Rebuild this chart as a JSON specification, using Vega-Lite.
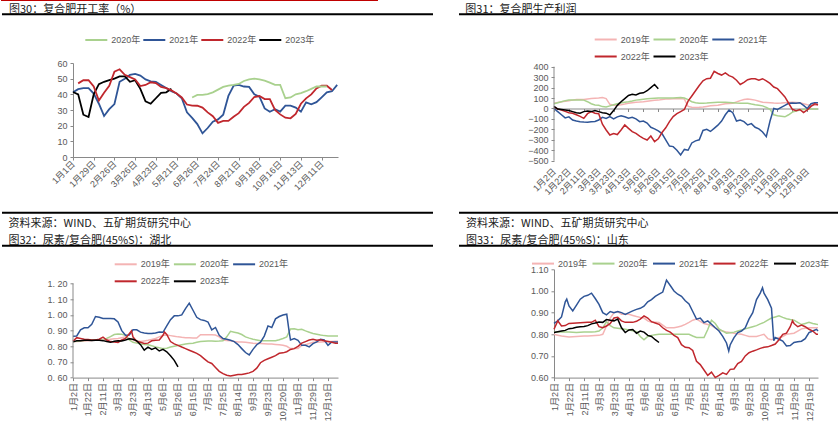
{
"$schema":"https://vega.github.io/schema/vega-lite/v6.json",
"padding":0,
"background":"white",
"config":{"view":{"stroke":null},"font":"Liberation Sans, Noto Sans CJK SC",
"axis":{"domainColor":"#898989","tickColor":"#898989","labelColor":"#595959","labelFontSize":9,"tickSize":3,"grid":false,"labelOverlap":false,"labelFlush":false,"labelBound":false,"labelFont":"Liberation Sans, Noto Sans CJK SC"},
"legend":{"symbolType":"stroke","symbolStrokeWidth":2,"symbolSize":484,"labelFontSize":9,"labelColor":"#595959","labelOffset":3,"padding":0,"rowPadding":-10,"labelFont":"Liberation Sans, Noto Sans CJK SC"}},
"datasets":{
"p1":[
{"i":0,"2021年":41.3,"2023年":41.5},
{"i":1,"2021年":43.3,"2022年":47,"2023年":40},
{"i":2,"2021年":44,"2022年":49,"2023年":27},
{"i":3,"2021年":44,"2022年":49,"2023年":25.5},
{"i":4,"2021年":40.5,"2022年":45,"2023年":40},
{"i":5,"2021年":34,"2022年":36,"2023年":46.5},
{"i":6,"2021年":26.2,"2022年":41,"2023年":48},
{"i":7,"2021年":30.5,"2022年":45.5,"2023年":49},
{"i":8,"2021年":33.8,"2022年":54.5,"2023年":50},
{"i":9,"2021年":48,"2022年":56,"2023年":51.5},
{"i":10,"2021年":50,"2022年":52.5,"2023年":51.5},
{"i":11,"2021年":52.5,"2022年":51,"2023年":48},
{"i":12,"2021年":53,"2022年":49.5,"2023年":49},
{"i":13,"2021年":52,"2022年":45.3,"2023年":43.5},
{"i":14,"2021年":49.5,"2022年":46,"2023年":35.5},
{"i":15,"2021年":48.3,"2022年":47.7,"2023年":34},
{"i":16,"2021年":48,"2022年":47.2,"2023年":37.5},
{"i":17,"2021年":46,"2022年":44.7,"2023年":41},
{"i":18,"2021年":44,"2022年":44,"2023年":41.3},
{"i":19,"2021年":42,"2022年":42.5,"2023年":43.5},
{"i":20,"2021年":40.5,"2022年":40.5},
{"i":21,"2021年":37.5,"2022年":38},
{"i":22,"2021年":28.5,"2022年":33.5},
{"i":23,"2020年":38,"2021年":25,"2022年":32.8},
{"i":24,"2020年":39.6,"2021年":21,"2022年":32.7},
{"i":25,"2020年":39.6,"2021年":15.1,"2022年":31.5},
{"i":26,"2020年":40.2,"2021年":18.5,"2022年":28.5},
{"i":27,"2020年":41.3,"2021年":22.5,"2022年":26},
{"i":28,"2020年":43,"2021年":24,"2022年":21.8},
{"i":29,"2020年":44.7,"2021年":27,"2022年":23},
{"i":30,"2020年":45.5,"2021年":39,"2022年":23},
{"i":31,"2020年":46,"2021年":45.5,"2022年":25.7},
{"i":32,"2020年":46.6,"2021年":46,"2022年":28},
{"i":33,"2020年":48.5,"2021年":45,"2022年":32},
{"i":34,"2020年":49.6,"2021年":44.7,"2022年":34.5},
{"i":35,"2020年":50,"2021年":40,"2022年":38.3},
{"i":36,"2020年":49.6,"2021年":38.5,"2022年":38.9},
{"i":37,"2020年":48.8,"2021年":31,"2022年":37},
{"i":38,"2020年":47.5,"2021年":28.9,"2022年":37},
{"i":39,"2020年":46,"2021年":30.5,"2022年":30},
{"i":40,"2020年":46,"2021年":29,"2022年":27.2},
{"i":41,"2020年":37.5,"2021年":32.8,"2022年":25.1},
{"i":42,"2020年":38,"2021年":32.8,"2022年":24.7},
{"i":43,"2020年":40,"2021年":31.5,"2022年":27.5},
{"i":44,"2020年":40.8,"2021年":28.9,"2022年":34},
{"i":45,"2020年":42,"2021年":34.9,"2022年":37.4},
{"i":46,"2020年":43.5,"2021年":33.6,"2022年":40},
{"i":47,"2020年":45,"2021年":35,"2022年":43.8},
{"i":48,"2020年":45,"2021年":38,"2022年":45.5},
{"i":49,"2020年":45,"2021年":41.3,"2022年":45.5},
{"i":50,"2021年":42,"2022年":42.8},
{"i":51,"2021年":46}
],
"p2":[
{"u":0,"2019年":50,"2020年":45,"2021年":0,"2022年":15,"2023年":20},
{"u":0.25,"2019年":58,"2020年":55,"2021年":-30,"2022年":-5,"2023年":-5},
{"u":0.5,"2019年":65,"2020年":65,"2021年":-60,"2022年":-15,"2023年":-10},
{"u":0.75,"2019年":70,"2020年":75,"2021年":-90,"2022年":-28,"2023年":-15},
{"u":1,"2019年":75,"2020年":80,"2021年":-80,"2022年":-40,"2023年":-20},
{"u":1.25,"2019年":80,"2020年":82,"2021年":-110,"2022年":-46,"2023年":-30},
{"u":1.5,"2019年":85,"2020年":82,"2021年":-120,"2022年":-60,"2023年":-40},
{"u":1.75,"2019年":85,"2020年":81,"2021年":-126,"2022年":-75,"2023年":-46},
{"u":2,"2019年":85,"2020年":80,"2021年":-130,"2022年":-95,"2023年":-30},
{"u":2.25,"2019年":90,"2020年":65,"2021年":-132,"2022年":-50,"2023年":-25},
{"u":2.5,"2019年":95,"2020年":45,"2021年":-128,"2022年":-30,"2023年":-30},
{"u":2.75,"2019年":98,"2020年":33,"2021年":-125,"2022年":-45,"2023年":-20},
{"u":3,"2019年":100,"2020年":30,"2021年":-110,"2022年":-50,"2023年":-30},
{"u":3.25,"2019年":105,"2020年":18,"2021年":-85,"2022年":-150,"2023年":-40},
{"u":3.5,"2019年":95,"2020年":15,"2021年":-95,"2022年":-206,"2023年":-45},
{"u":3.75,"2019年":40,"2020年":25,"2021年":-78,"2022年":-254,"2023年":-62},
{"u":4,"2019年":30,"2020年":35,"2021年":-100,"2022年":-240,"2023年":-20},
{"u":4.25,"2019年":32,"2020年":45,"2021年":-80,"2022年":-250,"2023年":30},
{"u":4.5,"2019年":35,"2020年":55,"2021年":-70,"2022年":-206,"2023年":65},
{"u":4.75,"2019年":42,"2020年":60,"2021年":-80,"2022年":-158,"2023年":95},
{"u":5,"2019年":50,"2020年":65,"2021年":-94,"2022年":-190,"2023年":125},
{"u":5.25,"2019年":55,"2020年":72,"2021年":-85,"2022年":-222,"2023年":136},
{"u":5.5,"2019年":60,"2020年":80,"2021年":-100,"2022年":-238,"2023年":130},
{"u":5.75,"2019年":62,"2020年":84,"2021年":-126,"2022年":-264,"2023年":145},
{"u":6,"2019年":65,"2020年":88,"2021年":-120,"2022年":-286,"2023年":150},
{"u":6.25,"2019年":70,"2020年":92,"2021年":-140,"2022年":-302,"2023年":170},
{"u":6.5,"2019年":75,"2020年":95,"2021年":-180,"2022年":-264,"2023年":200},
{"u":6.75,"2019年":78,"2020年":98,"2021年":-195,"2022年":-318,"2023年":230},
{"u":7,"2019年":80,"2020年":100,"2021年":-215,"2022年":-290,"2023年":190},
{"u":7.25,"2019年":85,"2020年":100,"2021年":-240,"2022年":-230},
{"u":7.5,"2019年":90,"2020年":100,"2021年":-300,"2022年":-185},
{"u":7.75,"2019年":91,"2020年":100,"2021年":-360,"2022年":-126},
{"u":8,"2019年":92,"2020年":100,"2021年":-365,"2022年":-78},
{"u":8.25,"2019年":94,"2020年":103,"2021年":-400,"2022年":-50},
{"u":8.5,"2019年":95,"2020年":105,"2021年":-445,"2022年":-30},
{"u":8.75,"2019年":90,"2020年":100,"2021年":-392,"2022年":-10},
{"u":9,"2019年":20,"2020年":85,"2021年":-400,"2022年":70},
{"u":9.25,"2019年":12,"2020年":65,"2021年":-330,"2022年":120},
{"u":9.5,"2019年":10,"2020年":55,"2021年":-310,"2022年":170},
{"u":9.75,"2019年":12,"2020年":50,"2021年":-300,"2022年":220},
{"u":10,"2019年":15,"2020年":50,"2021年":-210,"2022年":265},
{"u":10.25,"2019年":20,"2020年":52,"2021年":-200,"2022年":285},
{"u":10.5,"2019年":25,"2020年":55,"2021年":-220,"2022年":290},
{"u":10.75,"2019年":28,"2020年":58,"2021年":-190,"2022年":355},
{"u":11,"2019年":30,"2020年":60,"2021年":-160,"2022年":335},
{"u":11.25,"2019年":38,"2020年":60,"2021年":-120,"2022年":320},
{"u":11.5,"2019年":45,"2020年":60,"2021年":-60,"2022年":340},
{"u":11.75,"2019年":48,"2020年":58,"2021年":-15,"2022年":315},
{"u":12,"2019年":50,"2020年":55,"2021年":-40,"2022年":300},
{"u":12.25,"2019年":62,"2020年":52,"2021年":-120,"2022年":270},
{"u":12.5,"2019年":75,"2020年":50,"2021年":-110,"2022年":230},
{"u":12.75,"2019年":85,"2020年":50,"2021年":-126,"2022年":250},
{"u":13,"2019年":90,"2020年":50,"2021年":-158,"2022年":275},
{"u":13.25,"2019年":85,"2020年":42,"2021年":-145,"2022年":285},
{"u":13.5,"2019年":80,"2020年":35,"2021年":-180,"2022年":285},
{"u":13.75,"2019年":70,"2020年":30,"2021年":-195,"2022年":270},
{"u":14,"2019年":60,"2020年":25,"2021年":-225,"2022年":285},
{"u":14.25,"2019年":58,"2020年":10,"2021年":-270,"2022年":265},
{"u":14.5,"2019年":55,"2020年":-8,"2021年":-120,"2022年":240},
{"u":14.75,"2019年":52,"2020年":-60,"2021年":0,"2022年":205},
{"u":15,"2019年":50,"2020年":-70,"2021年":-10,"2022年":190},
{"u":15.25,"2019年":52,"2020年":-75,"2021年":10,"2022年":150},
{"u":15.5,"2019年":55,"2020年":-80,"2021年":30,"2022年":110},
{"u":15.75,"2019年":58,"2020年":-60,"2021年":50,"2022年":50},
{"u":16,"2019年":60,"2020年":-35,"2021年":52,"2022年":-8},
{"u":16.25,"2019年":58,"2020年":-25,"2021年":50,"2022年":-21},
{"u":16.5,"2019年":55,"2020年":-15,"2021年":55,"2022年":-10},
{"u":16.75,"2019年":45,"2020年":-10,"2021年":30,"2022年":-40},
{"u":17,"2019年":35,"2020年":-5,"2021年":0,"2022年":-14},
{"u":17.25,"2019年":32,"2020年":-5,"2021年":45,"2022年":20},
{"u":17.5,"2019年":30,"2020年":-5,"2021年":55,"2022年":45},
{"u":17.72,"2019年":30,"2020年":-5,"2021年":55,"2022年":35}
],
"p3":[
{"u":0,"2019年":0.83,"2020年":0.83,"2021年":0.864,"2022年":0.832,"2023年":0.828},
{"u":0.25,"2019年":0.831,"2020年":0.832,"2021年":0.866,"2022年":0.855,"2023年":0.835},
{"u":0.5,"2019年":0.832,"2020年":0.835,"2021年":0.905,"2022年":0.85,"2023年":0.836},
{"u":0.75,"2019年":0.834,"2020年":0.837,"2021年":0.918,"2022年":0.845,"2023年":0.838},
{"u":1,"2019年":0.835,"2020年":0.84,"2021年":0.918,"2022年":0.843,"2023年":0.838},
{"u":1.25,"2019年":0.837,"2020年":0.84,"2021年":0.94,"2022年":0.84,"2023年":0.837},
{"u":1.5,"2019年":0.84,"2020年":0.84,"2021年":0.99,"2022年":0.84,"2023年":0.838},
{"u":1.75,"2019年":0.84,"2020年":0.839,"2021年":0.985,"2022年":0.845,"2023年":0.838},
{"u":2,"2019年":0.84,"2020年":0.838,"2021年":0.977,"2022年":0.858,"2023年":0.836},
{"u":2.25,"2019年":0.842,"2020年":0.85,"2021年":0.977,"2022年":0.84,"2023年":0.83},
{"u":2.5,"2019年":0.845,"2020年":0.862,"2021年":0.977,"2022年":0.83,"2023年":0.825},
{"u":2.75,"2019年":0.848,"2020年":0.875,"2021年":0.975,"2022年":0.828,"2023年":0.832},
{"u":3,"2019年":0.85,"2020年":0.878,"2021年":0.955,"2022年":0.825,"2023年":0.835},
{"u":3.25,"2019年":0.855,"2020年":0.876,"2021年":0.9,"2022年":0.84,"2023年":0.834},
{"u":3.5,"2019年":0.86,"2020年":0.87,"2021年":0.87,"2022年":0.85,"2023年":0.84},
{"u":3.75,"2019年":0.85,"2020年":0.84,"2021年":0.872,"2022年":0.88,"2023年":0.848},
{"u":3.9,"2022年":0.898},
{"u":4,"2019年":0.84,"2020年":0.825,"2021年":0.905,"2022年":0.86,"2023年":0.845},
{"u":4.25,"2019年":0.835,"2020年":0.82,"2021年":0.905,"2022年":0.83,"2023年":0.835},
{"u":4.5,"2019年":0.83,"2020年":0.815,"2021年":0.89,"2022年":0.825,"2023年":0.81},
{"u":4.75,"2019年":0.834,"2020年":0.812,"2021年":0.885,"2022年":0.818,"2023年":0.775},
{"u":5,"2019年":0.838,"2020年":0.81,"2021年":0.881,"2022年":0.82,"2023年":0.795},
{"u":5.25,"2019年":0.844,"2020年":0.803,"2021年":0.881,"2022年":0.835,"2023年":0.78},
{"u":5.5,"2019年":0.85,"2020年":0.796,"2021年":0.885,"2022年":0.838,"2023年":0.79},
{"u":5.75,"2019年":0.86,"2020年":0.79,"2021年":0.891,"2022年":0.84,"2023年":0.77},
{"u":6,"2019年":0.87,"2020年":0.785,"2021年":0.889,"2022年":0.87,"2023年":0.78},
{"u":6.1,"2022年":0.89},
{"u":6.25,"2019年":0.872,"2020年":0.787,"2021年":0.93,"2022年":0.875,"2023年":0.765},
{"u":6.5,"2019年":0.868,"2020年":0.795,"2021年":0.97,"2022年":0.83,"2023年":0.74},
{"u":6.75,"2019年":0.864,"2020年":0.8,"2021年":0.994,"2022年":0.815,"2023年":0.71},
{"u":7,"2019年":0.86,"2020年":0.805,"2021年":0.994,"2022年":0.806,"2023年":0.668},
{"u":7.25,"2019年":0.857,"2020年":0.81,"2021年":1.0,"2022年":0.795},
{"u":7.5,"2019年":0.855,"2020年":0.815,"2021年":1.04,"2022年":0.785},
{"u":7.75,"2019年":0.854,"2020年":0.818,"2021年":1.075,"2022年":0.775},
{"u":8,"2019年":0.853,"2020年":0.82,"2021年":1.03,"2022年":0.765},
{"u":8.25,"2019年":0.853,"2020年":0.825,"2021年":0.985,"2022年":0.755},
{"u":8.5,"2019年":0.874,"2020年":0.83,"2021年":0.97,"2022年":0.74},
{"u":8.75,"2019年":0.874,"2020年":0.832,"2021年":0.965,"2022年":0.72},
{"u":9,"2019年":0.874,"2020年":0.833,"2021年":0.955,"2022年":0.7},
{"u":9.25,"2019年":0.873,"2020年":0.833,"2021年":0.905,"2022年":0.69},
{"u":9.5,"2019年":0.872,"2020年":0.832,"2021年":0.92,"2022年":0.665},
{"u":9.75,"2019年":0.86,"2020年":0.833,"2021年":0.87,"2022年":0.64},
{"u":10,"2019年":0.84,"2020年":0.835,"2021年":0.849,"2022年":0.625},
{"u":10.25,"2019年":0.837,"2020年":0.86,"2021年":0.845,"2022年":0.615},
{"u":10.5,"2019年":0.835,"2020年":0.895,"2021年":0.838,"2022年":0.61},
{"u":10.75,"2019年":0.83,"2020年":0.89,"2021年":0.83,"2022年":0.615},
{"u":11,"2019年":0.828,"2020年":0.885,"2021年":0.811,"2022年":0.62},
{"u":11.25,"2019年":0.827,"2020年":0.875,"2021年":0.785,"2022年":0.62},
{"u":11.5,"2019年":0.826,"2020年":0.86,"2021年":0.76,"2022年":0.625},
{"u":11.75,"2019年":0.823,"2020年":0.852,"2021年":0.745,"2022年":0.63},
{"u":12,"2019年":0.82,"2020年":0.845,"2021年":0.78,"2022年":0.64},
{"u":12.25,"2019年":0.818,"2020年":0.84,"2021年":0.81,"2022年":0.66},
{"u":12.5,"2019年":0.817,"2020年":0.835,"2021年":0.826,"2022年":0.695},
{"u":12.75,"2019年":0.816,"2020年":0.835,"2021年":0.865,"2022年":0.71},
{"u":13,"2019年":0.815,"2020年":0.835,"2021年":0.93,"2022年":0.72},
{"u":13.25,"2019年":0.814,"2020年":0.835,"2021年":0.92,"2022年":0.73},
{"u":13.5,"2019年":0.812,"2020年":0.835,"2021年":0.975,"2022年":0.74},
{"u":13.75,"2019年":0.81,"2020年":0.842,"2021年":0.99,"2022年":0.755},
{"u":14,"2019年":0.806,"2020年":0.85,"2021年":1.0,"2022年":0.758},
{"u":14.25,"2019年":0.8,"2020年":0.86,"2021年":1.005,"2022年":0.765},
{"u":14.4,"2021年":0.9},
{"u":14.5,"2019年":0.785,"2020年":0.91,"2021年":0.84,"2022年":0.78},
{"u":14.75,"2019年":0.785,"2020年":0.912,"2021年":0.849,"2022年":0.785},
{"u":15,"2019年":0.785,"2020年":0.905,"2021年":0.838,"2022年":0.8},
{"u":15.25,"2019年":0.805,"2020年":0.908,"2021年":0.806,"2022年":0.82},
{"u":15.5,"2019年":0.81,"2020年":0.898,"2021年":0.806,"2022年":0.83},
{"u":15.75,"2019年":0.818,"2020年":0.89,"2021年":0.796,"2022年":0.84},
{"u":16,"2019年":0.825,"2020年":0.882,"2021年":0.817,"2022年":0.845},
{"u":16.25,"2019年":0.826,"2020年":0.877,"2021年":0.828,"2022年":0.838},
{"u":16.5,"2019年":0.828,"2020年":0.872,"2021年":0.845,"2022年":0.842},
{"u":16.75,"2019年":0.829,"2020年":0.868,"2021年":0.84,"2022年":0.835},
{"u":17,"2019年":0.83,"2020年":0.865,"2021年":0.806,"2022年":0.83},
{"u":17.25,"2019年":0.831,"2020年":0.866,"2021年":0.828,"2022年":0.825},
{"u":17.5,"2019年":0.832,"2020年":0.866,"2021年":0.828,"2022年":0.82},
{"u":17.667,"2019年":0.832,"2020年":0.866,"2021年":0.828,"2022年":0.82}
],
"p4":[
{"u":0,"2019年":0.8,"2020年":0.81,"2021年":0.85,"2022年":0.823,"2023年":0.808},
{"u":0.25,"2019年":0.796,"2020年":0.811,"2021年":0.862,"2022年":0.862,"2023年":0.812},
{"u":0.5,"2019年":0.792,"2020年":0.812,"2021年":0.88,"2022年":0.838,"2023年":0.815},
{"u":0.75,"2019年":0.79,"2020年":0.811,"2021年":0.95,"2022年":0.84,"2023年":0.818},
{"u":0.85,"2021年":0.962},
{"u":1,"2019年":0.788,"2020年":0.81,"2021年":0.931,"2022年":0.85,"2023年":0.826},
{"u":1.25,"2019年":0.789,"2020年":0.809,"2021年":0.908,"2022年":0.851,"2023年":0.828},
{"u":1.5,"2019年":0.79,"2020年":0.808,"2021年":0.935,"2022年":0.852,"2023年":0.832},
{"u":1.75,"2019年":0.791,"2020年":0.809,"2021年":0.962,"2022年":0.853,"2023年":0.835},
{"u":2,"2019年":0.792,"2020年":0.81,"2021年":0.975,"2022年":0.854,"2023年":0.836},
{"u":2.25,"2019年":0.792,"2020年":0.81,"2021年":0.98,"2022年":0.855,"2023年":0.84},
{"u":2.5,"2019年":0.793,"2020年":0.81,"2021年":0.99,"2022年":0.855,"2023年":0.848},
{"u":2.75,"2019年":0.794,"2020年":0.812,"2021年":0.965,"2022年":0.865,"2023年":0.852},
{"u":3,"2019年":0.795,"2020年":0.815,"2021年":0.938,"2022年":0.835,"2023年":0.857},
{"u":3.25,"2019年":0.8,"2020年":0.83,"2021年":0.9,"2022年":0.83,"2023年":0.855},
{"u":3.5,"2019年":0.838,"2020年":0.858,"2021年":0.89,"2022年":0.838,"2023年":0.868},
{"u":3.75,"2019年":0.875,"2020年":0.84,"2021年":0.905,"2022年":0.85,"2023年":0.865},
{"u":4,"2019年":0.9,"2020年":0.83,"2021年":0.9,"2022年":0.875,"2023年":0.862},
{"u":4.25,"2019年":0.905,"2020年":0.828,"2021年":0.905,"2022年":0.878,"2023年":0.87},
{"u":4.5,"2019年":0.892,"2020年":0.826,"2021年":0.9,"2022年":0.862,"2023年":0.83},
{"u":4.75,"2019年":0.892,"2020年":0.823,"2021年":0.892,"2022年":0.855,"2023年":0.808},
{"u":5,"2019年":0.892,"2020年":0.82,"2021年":0.9,"2022年":0.855,"2023年":0.82},
{"u":5.25,"2019年":0.887,"2020年":0.816,"2021年":0.908,"2022年":0.855,"2023年":0.822},
{"u":5.5,"2019年":0.882,"2020年":0.812,"2021年":0.915,"2022年":0.86,"2023年":0.805},
{"u":5.75,"2019年":0.878,"2020年":0.79,"2021年":0.92,"2022年":0.87,"2023年":0.815},
{"u":6,"2019年":0.875,"2020年":0.775,"2021年":0.93,"2022年":0.885,"2023年":0.81},
{"u":6.25,"2019年":0.862,"2020年":0.79,"2021年":0.95,"2022年":0.875,"2023年":0.795},
{"u":6.5,"2019年":0.855,"2020年":0.795,"2021年":0.96,"2022年":0.858,"2023年":0.79},
{"u":6.75,"2019年":0.855,"2020年":0.798,"2021年":0.975,"2022年":0.852,"2023年":0.775},
{"u":7,"2019年":0.854,"2020年":0.8,"2021年":0.985,"2022年":0.846,"2023年":0.762},
{"u":7.25,"2019年":0.842,"2020年":0.8,"2021年":0.995,"2022年":0.83},
{"u":7.5,"2019年":0.83,"2020年":0.8,"2021年":1.05,"2022年":0.818},
{"u":7.75,"2019年":0.83,"2020年":0.8,"2021年":1.025,"2022年":0.81},
{"u":8,"2019年":0.83,"2020年":0.8,"2021年":1.0,"2022年":0.795},
{"u":8.25,"2019年":0.834,"2020年":0.8,"2021年":0.985,"2022年":0.785},
{"u":8.5,"2019年":0.838,"2020年":0.8,"2021年":0.975,"2022年":0.752},
{"u":8.75,"2019年":0.846,"2020年":0.8,"2021年":0.955,"2022年":0.74},
{"u":9,"2019年":0.855,"2020年":0.8,"2021年":0.94,"2022年":0.738},
{"u":9.25,"2019年":0.865,"2020年":0.792,"2021年":0.905,"2022年":0.725},
{"u":9.5,"2019年":0.87,"2020年":0.785,"2021年":0.87,"2022年":0.675},
{"u":9.75,"2019年":0.86,"2020年":0.785,"2021年":0.875,"2022年":0.66},
{"u":10,"2019年":0.85,"2020年":0.785,"2021年":0.854,"2022年":0.635},
{"u":10.25,"2019年":0.845,"2020年":0.822,"2021年":0.862,"2022年":0.61},
{"u":10.5,"2019年":0.84,"2020年":0.865,"2021年":0.846,"2022年":0.625},
{"u":10.75,"2019年":0.83,"2020年":0.85,"2021年":0.83,"2022年":0.6},
{"u":11,"2019年":0.82,"2020年":0.825,"2021年":0.815,"2022年":0.61},
{"u":11.25,"2019年":0.815,"2020年":0.815,"2021年":0.79,"2022年":0.622},
{"u":11.5,"2019年":0.81,"2020年":0.805,"2021年":0.76,"2022年":0.615},
{"u":11.65,"2021年":0.723},
{"u":11.75,"2019年":0.808,"2020年":0.807,"2021年":0.752,"2022年":0.638},
{"u":12,"2019年":0.805,"2020年":0.81,"2021年":0.785,"2022年":0.64},
{"u":12.25,"2019年":0.802,"2020年":0.815,"2021年":0.808,"2022年":0.665},
{"u":12.5,"2019年":0.8,"2020年":0.82,"2021年":0.815,"2022年":0.675},
{"u":12.75,"2019年":0.795,"2020年":0.825,"2021年":0.83,"2022年":0.7},
{"u":13,"2019年":0.79,"2020年":0.83,"2021年":0.87,"2022年":0.715},
{"u":13.25,"2019年":0.79,"2020年":0.835,"2021年":0.9,"2022年":0.722},
{"u":13.5,"2019年":0.79,"2020年":0.84,"2021年":0.96,"2022年":0.728},
{"u":13.75,"2019年":0.795,"2020年":0.848,"2021年":0.99,"2022年":0.735},
{"u":13.9,"2021年":1.015},
{"u":14,"2019年":0.8,"2020年":0.855,"2021年":0.99,"2022年":0.74},
{"u":14.25,"2019年":0.78,"2020年":0.865,"2021年":0.96,"2022年":0.742},
{"u":14.5,"2019年":0.775,"2020年":0.875,"2021年":0.92,"2022年":0.748},
{"u":14.65,"2021年":0.77},
{"u":14.75,"2019年":0.78,"2020年":0.88,"2021年":0.785,"2022年":0.755},
{"u":15,"2019年":0.785,"2020年":0.885,"2021年":0.777,"2022年":0.775},
{"u":15.25,"2019年":0.79,"2020年":0.878,"2021年":0.769,"2022年":0.8},
{"u":15.5,"2019年":0.8,"2020年":0.872,"2021年":0.746,"2022年":0.805},
{"u":15.75,"2019年":0.802,"2020年":0.868,"2021年":0.748,"2022年":0.835},
{"u":15.9,"2022年":0.862},
{"u":16,"2019年":0.805,"2020年":0.865,"2021年":0.762,"2022年":0.85},
{"u":16.25,"2019年":0.815,"2020年":0.855,"2021年":0.765,"2022年":0.835},
{"u":16.5,"2019年":0.825,"2020年":0.845,"2021年":0.768,"2022年":0.843},
{"u":16.75,"2019年":0.828,"2020年":0.85,"2021年":0.78,"2022年":0.835},
{"u":17,"2019年":0.83,"2020年":0.855,"2021年":0.808,"2022年":0.823},
{"u":17.25,"2019年":0.83,"2020年":0.85,"2021年":0.815,"2022年":0.815},
{"u":17.5,"2019年":0.83,"2020年":0.846,"2021年":0.823,"2022年":0.8},
{"u":17.6,"2019年":0.83,"2020年":0.845,"2021年":0.815,"2022年":0.8}
]
},
"columns":2,
"bounds":"flush",
"align":"each",
"spacing":{"row":108.3,"column":216},
"resolve":{"scale":{"color":"independent","x":"independent","y":"independent"},"legend":{"color":"independent"},"axis":{"x":"independent","y":"independent"}},
"concat":[
{"width":265,"height":94,
"layer":[
{"data":{"name":"p1"},
"transform":[{"fold":["2020年","2021年","2022年","2023年"],"as":["s","v"]},{"filter":"isValid(datum.v)"}],
"mark":{"type":"line","strokeWidth":1.8},
"encoding":{
"x":{"field":"i","type":"quantitative","scale":{"domain":[0,51.16],"nice":false,"zero":false},"axis":{"title":null,"tickCount":100,"labelOverlap":false,"labelFlush":false,"values":[0,4,8,12,16,20,24,28,32,36,40,44,48],"labelExpr":"['1月1日','1月29日','2月26日','3月26日','4月23日','5月21日','6月26日','7月24日','8月21日','9月18日','10月16日','11月13日','12月11日'][round(datum.value/4)]","labelAngle":-45,"labelAlign":"right","labelBaseline":"middle","labelPadding":2}},
"y":{"field":"v","type":"quantitative","scale":{"domain":[0,60],"nice":false,"zero":false},"axis":{"title":null,"tickCount":100,"format":"d","labelOverlap":false,"labelFlush":false,"values":[0,10,20,30,40,50,60],"labelPadding":3}},
"color":{"field":"s","type":"nominal","scale":{"domain":["2020年","2021年","2022年","2023年"],"range":["#a9d18e","#2f5597","#c0272d","#000000"]},"legend":{"title":null,"orient":"none","legendX":11.3,"legendY":-35,"direction":"horizontal","columns":4,"columnPadding":-2}}}},
{"data":{"values":[{}]},"mark":{"type":"rule","color":"#c00000","strokeWidth":1,"clip":false},
"encoding":{"x":{"datum":-13.9,"scale":{"domain":[0,51.16],"nice":false,"zero":false}},"x2":{"datum":58.88},"y":{"datum":99.89,"scale":{"domain":[0,60],"nice":false,"zero":false}}}},
{"data":{"values":[{}]},"mark":{"type":"rule","color":"#000000","strokeWidth":2,"clip":false},
"encoding":{"x":{"datum":-13.71,"scale":{"domain":[0,51.16],"nice":false,"zero":false}},"x2":{"datum":69.5},"y":{"datum":91.08,"scale":{"domain":[0,60],"nice":false,"zero":false}}}},
{"data":{"values":[{"t":"图30：复合肥开工率（%）"}]},"mark":{"type":"text","align":"left","baseline":"middle","fontSize":11,"color":"#1a1a1a","font":"Noto Sans CJK SC","clip":false},
"encoding":{"x":{"datum":-12.355,"scale":{"domain":[0,51.16],"nice":false,"zero":false}},"y":{"datum":93.83,"scale":{"domain":[0,60],"nice":false,"zero":false}},"text":{"field":"t"}}}
]},
{"width":264,"height":97.7,
"layer":[
{"data":{"name":"p2"},
"transform":[{"fold":["2019年","2020年","2021年","2022年","2023年"],"as":["s","v"]},{"filter":"isValid(datum.v)"}],
"mark":{"type":"line","strokeWidth":1.5},
"encoding":{
"x":{"field":"u","type":"quantitative","scale":{"domain":[0,17.72],"nice":false,"zero":false},"axis":{"title":null,"tickCount":100,"labelOverlap":false,"labelFlush":false,"values":[0,1,2,3,4,5,6,7,8,9,10,11,12,13,14,15,16,17],"labelExpr":"['1月2日','1月22日','2月11日','3月3日','3月23日','4月13日','5月6日','5月26日','6月15日','7月5日','7月25日','8月14日','9月3日','9月23日','10月20日','11月9日','11月29日','12月19日'][round(datum.value)]","labelAngle":-45,"labelAlign":"right","labelBaseline":"middle","offset":-52.2,"labelPadding":58}},
"y":{"field":"v","type":"quantitative","scale":{"domain":[-500,435.4],"nice":false,"zero":false},"axis":{"title":null,"tickCount":100,"format":"d","labelOverlap":false,"labelFlush":false,"values":[-500,-400,-300,-200,-100,0,100,200,300,400],"domain":false,"labelPadding":3}},
"color":{"field":"s","type":"nominal","scale":{"domain":["2019年","2020年","2021年","2022年","2023年"],"range":["#f4b4b4","#a9d18e","#2f5597","#c0272d","#000000"]},"legend":{"title":null,"orient":"none","legendX":39.7,"legendY":-35.5,"direction":"horizontal","columns":3,"columnPadding":-1.2}}}},
{"data":{"values":[{}]},"mark":{"type":"rule","color":"#898989","strokeWidth":1},
"encoding":{"x":{"datum":0,"scale":{"domain":[0,17.72],"nice":false,"zero":false}},"y":{"datum":-500,"scale":{"domain":[-500,435.4],"nice":false,"zero":false}},"y2":{"datum":400}}},
{"data":{"values":[{}]},"mark":{"type":"rule","color":"#000000","strokeWidth":2,"clip":false},
"encoding":{"x":{"datum":-6.376,"scale":{"domain":[0,17.72],"nice":false,"zero":false}},"x2":{"datum":19.13},"y":{"datum":901.7,"scale":{"domain":[-500,435.4],"nice":false,"zero":false}}}},
{"data":{"values":[{"t":"图31：复合肥生产利润"}]},"mark":{"type":"text","align":"left","baseline":"middle","fontSize":11,"color":"#1a1a1a","font":"Noto Sans CJK SC","clip":false},
"encoding":{"x":{"datum":-5.953,"scale":{"domain":[0,17.72],"nice":false,"zero":false}},"y":{"datum":942.8,"scale":{"domain":[-500,435.4],"nice":false,"zero":false}},"text":{"field":"t"}}}
]},
{"width":265,"height":108.3,
"layer":[
{"data":{"name":"p3"},
"transform":[{"fold":["2019年","2020年","2021年","2022年","2023年"],"as":["s","v"]},{"filter":"isValid(datum.v)"}],
"mark":{"type":"line","strokeWidth":1.5},
"encoding":{
"x":{"field":"u","type":"quantitative","scale":{"domain":[0,17.667],"nice":false,"zero":false},"axis":{"title":null,"tickCount":100,"labelOverlap":false,"labelFlush":false,"values":[0,1,2,3,4,5,6,7,8,9,10,11,12,13,14,15,16,17],"labelExpr":"['1月2日','1月22日','2月11日','3月3日','3月23日','4月13日','5月6日','5月26日','6月15日','7月5日','7月25日','8月14日','9月3日','9月23日','10月20日','11月9日','11月29日','12月19日'][round(datum.value)]","labelAngle":-90,"labelAlign":"right","labelBaseline":"middle","labelPadding":2}},
"y":{"field":"v","type":"quantitative","scale":{"domain":[0.6,1.2913],"nice":false,"zero":false},"axis":{"title":null,"tickCount":100,"labelOverlap":false,"labelFlush":false,"values":[0.6,0.7,0.8,0.9,1.0,1.1,1.2],"labelExpr":"replace(format(datum.value,'.2f'),'.','. ')","domain":false,"labelPadding":3}},
"color":{"field":"s","type":"nominal","scale":{"domain":["2019年","2020年","2021年","2022年","2023年"],"range":["#f4b4b4","#a9d18e","#2f5597","#c0272d","#000000"]},"legend":{"title":null,"orient":"none","legendX":40.7,"legendY":-17,"direction":"horizontal","columns":3,"columnPadding":-0.8}}}},
{"data":{"values":[{}]},"mark":{"type":"rule","color":"#898989","strokeWidth":1},
"encoding":{"x":{"datum":0,"scale":{"domain":[0,17.667],"nice":false,"zero":false}},"y":{"datum":0.6,"scale":{"domain":[0.6,1.2913],"nice":false,"zero":false}},"y2":{"datum":1.2}}},
{"data":{"values":[{}]},"mark":{"type":"rule","color":"#000000","strokeWidth":2,"clip":false},
"encoding":{"x":{"datum":-4.733,"scale":{"domain":[0,17.667],"nice":false,"zero":false}},"x2":{"datum":24.0},"y":{"datum":1.6519,"scale":{"domain":[0.6,1.2913],"nice":false,"zero":false}}}},
{"data":{"values":[{}]},"mark":{"type":"rule","color":"#000000","strokeWidth":2,"clip":false},
"encoding":{"x":{"datum":-4.733,"scale":{"domain":[0,17.667],"nice":false,"zero":false}},"x2":{"datum":24.0},"y":{"datum":1.4413,"scale":{"domain":[0.6,1.2913],"nice":false,"zero":false}}}},
{"data":{"values":[{"t":"资料来源：WIND、五矿期货研究中心"}]},"mark":{"type":"text","align":"left","baseline":"middle","fontSize":11,"color":"#1a1a1a","font":"Noto Sans CJK SC","clip":false},
"encoding":{"x":{"datum":-4.3,"scale":{"domain":[0,17.667],"nice":false,"zero":false}},"y":{"datum":1.5785,"scale":{"domain":[0.6,1.2913],"nice":false,"zero":false}},"text":{"field":"t"}}},
{"data":{"values":[{"t":"图32：尿素/复合肥(45%S)：湖北"}]},"mark":{"type":"text","align":"left","baseline":"middle","fontSize":11,"color":"#1a1a1a","font":"Noto Sans CJK SC","clip":false},
"encoding":{"x":{"datum":-4.3,"scale":{"domain":[0,17.667],"nice":false,"zero":false}},"y":{"datum":1.4732,"scale":{"domain":[0.6,1.2913],"nice":false,"zero":false}},"text":{"field":"t"}}}
]},
{"width":264,"height":108.3,
"layer":[
{"data":{"name":"p4"},
"transform":[{"fold":["2019年","2020年","2021年","2022年","2023年"],"as":["s","v"]},{"filter":"isValid(datum.v)"}],
"mark":{"type":"line","strokeWidth":1.5},
"encoding":{
"x":{"field":"u","type":"quantitative","scale":{"domain":[0,17.6],"nice":false,"zero":false},"axis":{"title":null,"tickCount":100,"labelOverlap":false,"labelFlush":false,"values":[0,1,2,3,4,5,6,7,8,9,10,11,12,13,14,15,16,17],"labelExpr":"['1月2日','1月22日','2月11日','3月3日','3月23日','4月13日','5月6日','5月26日','6月15日','7月5日','7月25日','8月14日','9月3日','9月23日','10月20日','11月9日','11月29日','12月19日'][round(datum.value)]","labelAngle":-90,"labelAlign":"right","labelBaseline":"middle","labelPadding":2}},
"y":{"field":"v","type":"quantitative","scale":{"domain":[0.6,1.1],"nice":false,"zero":false},"axis":{"title":null,"tickCount":100,"labelOverlap":false,"labelFlush":false,"values":[0.6,0.7,0.8,0.9,1.0,1.1],"format":".2f","labelPadding":3}},
"color":{"field":"s","type":"nominal","scale":{"domain":["2019年","2020年","2021年","2022年","2023年"],"range":["#f4b4b4","#a9d18e","#2f5597","#c0272d","#000000"]},"legend":{"title":null,"orient":"none","legendX":-23,"legendY":-17.7,"direction":"horizontal","columns":5,"columnPadding":0.5}}}},
{"data":{"values":[{}]},"mark":{"type":"rule","color":"#000000","strokeWidth":2,"clip":false},
"encoding":{"x":{"datum":-6.333,"scale":{"domain":[0,17.6],"nice":false,"zero":false}},"x2":{"datum":19.0},"y":{"datum":1.3609,"scale":{"domain":[0.6,1.1],"nice":false,"zero":false}}}},
{"data":{"values":[{}]},"mark":{"type":"rule","color":"#000000","strokeWidth":2,"clip":false},
"encoding":{"x":{"datum":-6.333,"scale":{"domain":[0,17.6],"nice":false,"zero":false}},"x2":{"datum":19.0},"y":{"datum":1.2085,"scale":{"domain":[0.6,1.1],"nice":false,"zero":false}}}},
{"data":{"values":[{"t":"资料来源：WIND、五矿期货研究中心"}]},"mark":{"type":"text","align":"left","baseline":"middle","fontSize":11,"color":"#1a1a1a","font":"Noto Sans CJK SC","clip":false},
"encoding":{"x":{"datum":-5.867,"scale":{"domain":[0,17.6],"nice":false,"zero":false}},"y":{"datum":1.3078,"scale":{"domain":[0.6,1.1],"nice":false,"zero":false}},"text":{"field":"t"}}},
{"data":{"values":[{"t":"图33：尿素/复合肥(45%S)：山东"}]},"mark":{"type":"text","align":"left","baseline":"middle","fontSize":11,"color":"#1a1a1a","font":"Noto Sans CJK SC","clip":false},
"encoding":{"x":{"datum":-5.867,"scale":{"domain":[0,17.6],"nice":false,"zero":false}},"y":{"datum":1.2316,"scale":{"domain":[0.6,1.1],"nice":false,"zero":false}},"text":{"field":"t"}}}
]}
]
}
